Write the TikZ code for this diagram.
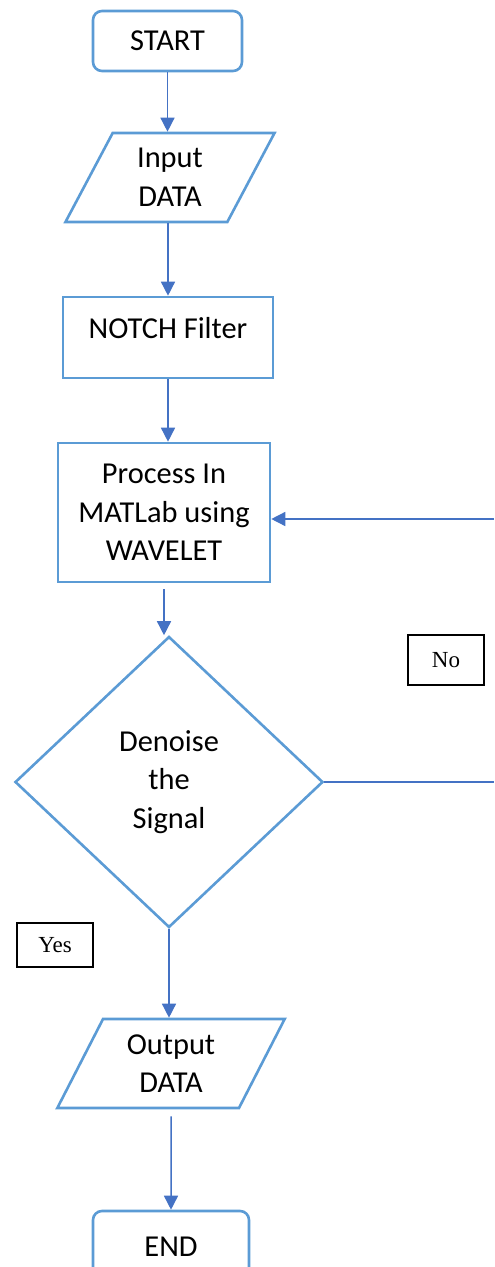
\documentclass[tikz,border=0pt]{standalone}
\usepackage{fontspec}
\setmainfont{Carlito}
\newfontfamily\tagfont{Liberation Serif}
\usetikzlibrary{shapes.geometric,arrows.meta}
\definecolor{shapeblue}{HTML}{5B9BD5}
\definecolor{lineblue}{HTML}{4472C4}

\begin{document}
\begin{tikzpicture}[x=0.5pt,y=-0.5pt,
    every node/.style={font=\fontsize{15.2}{19.3}\selectfont, align=center, inner sep=0pt},
    terminal/.style={draw=shapeblue, line width=1.3pt, rounded corners=4.5pt, fill=white},
    iobox/.style={draw=shapeblue, line width=1.3pt, trapezium, trapezium stretches=true, fill=white},
    procbox/.style={draw=shapeblue, line width=1.3pt, fill=white},
    decision/.style={draw=shapeblue, line width=1.3pt, diamond, fill=white},
    answer/.style={draw=black, line width=0.6pt, font=\tagfont\fontsize{11.5}{13}\selectfont},
    flow/.style={draw=lineblue, line width=0.75pt, -{Triangle[width=7pt,length=7pt]}},
    feed/.style={draw=lineblue, line width=0.75pt}]
  \clip (0,0) rectangle (494,1267);

  \node[terminal, minimum width=74.5pt, minimum height=30pt] (start) at (167.5,41) {START};
  \node[iobox, trapezium left angle=65, trapezium right angle=115,
        minimum width=105pt, minimum height=44.5pt] (input) at (170,177.5) {Input\\DATA};
  \node[procbox, minimum width=105pt, minimum height=40.5pt,
        label={[yshift=4.75pt]center:NOTCH Filter}] (notch) at (168,337.5) {};
  \node[procbox, minimum width=106pt, minimum height=69.5pt] (process) at (164,512.5)
        {Process In\\MATLab using\\WAVELET};
  \node[decision, minimum width=154pt, minimum height=145.5pt] (check) at (169,782)
        {Denoise\\the\\Signal};
  \node[answer, minimum width=38pt, minimum height=25pt] (no) at (446,660) {No};
  \node[answer, minimum width=38pt, minimum height=22pt] (yes) at (55,945) {Yes};
  \node[iobox, trapezium left angle=63, trapezium right angle=117,
        minimum width=114pt, minimum height=44.5pt] (output) at (171,1063.5) {Output\\DATA};
  \node[terminal, minimum width=78pt, minimum height=36pt] (end) at (171,1247) {END};

  \coordinate (loopin) at (494,519);
  \coordinate (loopout) at (494,779);

  \draw[flow] (start.south) -- (start.south |- input.north);
  \draw[flow] (notch.north |- input.south) -- (notch.north);
  \draw[flow] (notch.south) -- (process.north -| notch.south);
  \draw[flow, shorten <=3pt] (process.south) -- (process.south |- check.north);
  \draw[feed] (check.east) -- (loopout |- check.east);
  \draw[flow] (loopin) -- (loopin -| process.east);
  \draw[flow] (check.south) -- (check.south |- output.north);
  \draw[flow, shorten <=3.5pt] (output.south) -- (end.north);
\end{tikzpicture}
\end{document}
